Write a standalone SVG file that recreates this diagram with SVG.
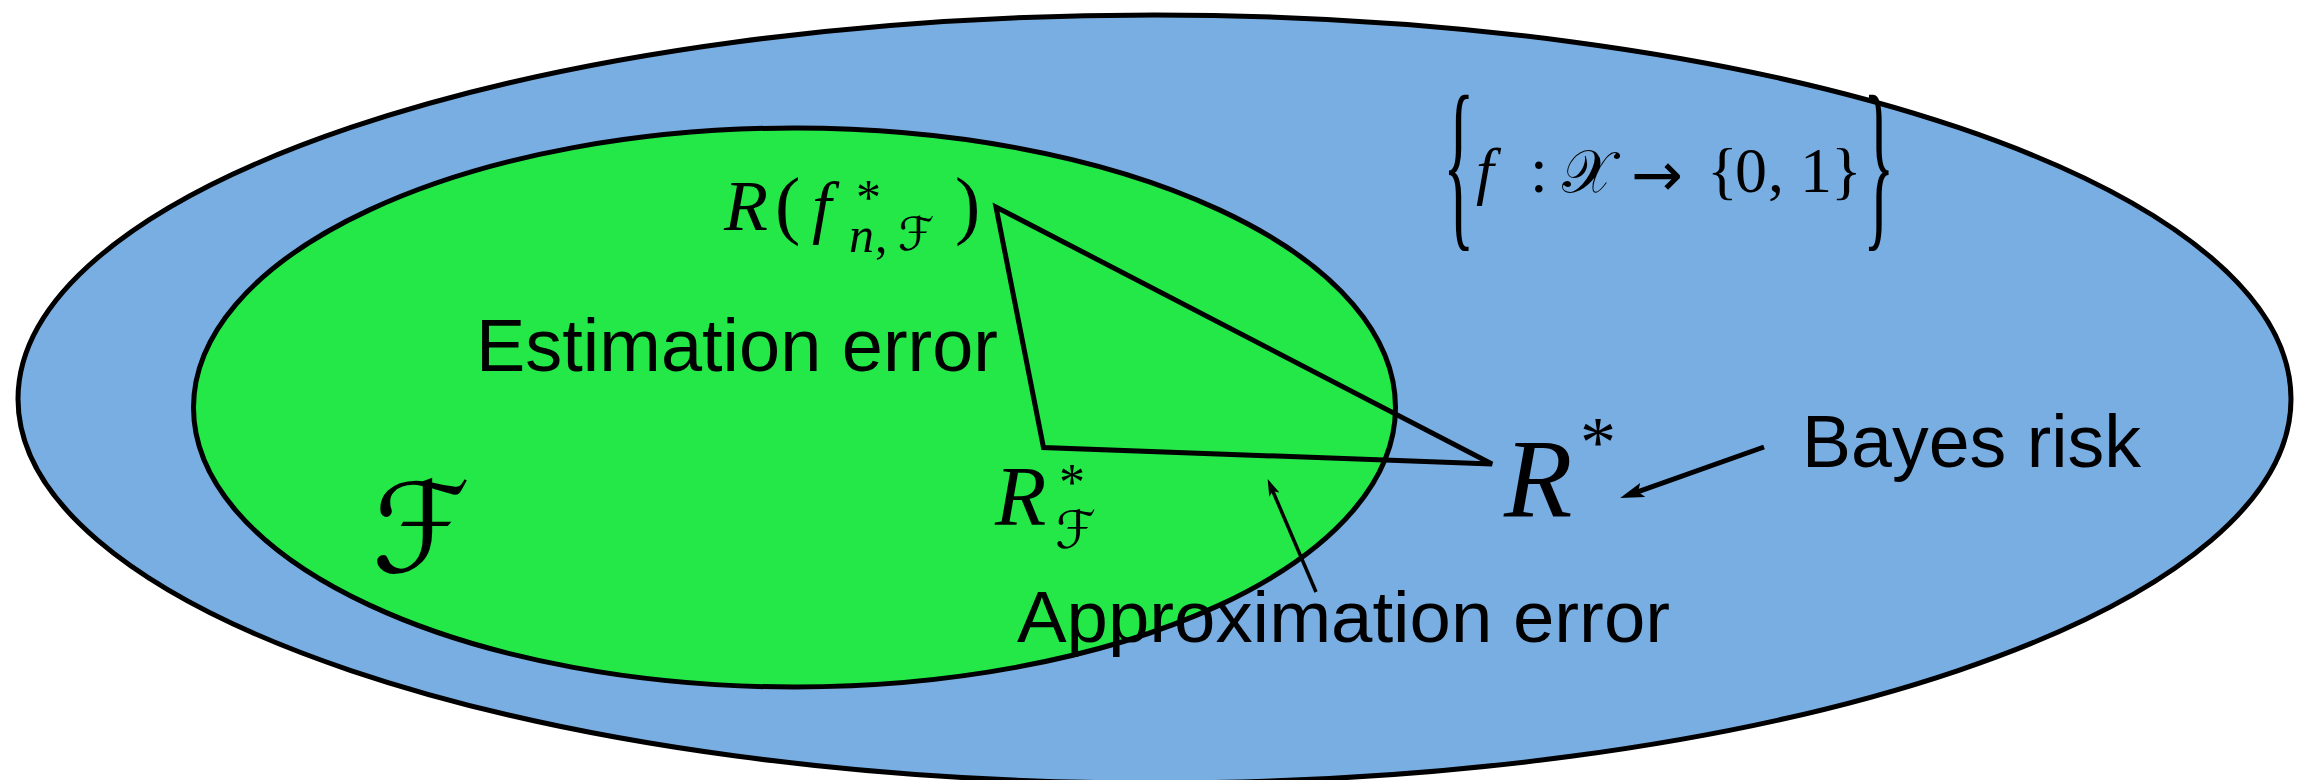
<svg xmlns="http://www.w3.org/2000/svg" width="2299" height="780" viewBox="0 0 2299 780">
<defs>
<style>
.sans{font-family:"Liberation Sans",Arial,sans-serif;fill:#000}
.mi{font-family:"Liberation Serif","Times New Roman",serif;font-style:italic;fill:#000}
.mr{font-family:"Liberation Serif","Times New Roman",serif;font-style:normal;fill:#000}
.cal{font-family:"DejaVu Serif","DejaVu Sans",serif;font-style:normal;fill:#000}
.arr{font-family:"DejaVu Sans",sans-serif;font-style:normal;fill:#000}
.edge{stroke:#000;fill:none}
</style>
<marker id="ahBig" viewBox="0 0 24 15" refX="13" refY="7.5" markerWidth="24" markerHeight="15" orient="auto" markerUnits="userSpaceOnUse"><path d="M0,0 L24,7.5 L0,15 L5,7.5 z" fill="#000"/></marker>
<marker id="ahSmall" viewBox="0 0 17 11" refX="9" refY="5.5" markerWidth="17" markerHeight="11" orient="auto" markerUnits="userSpaceOnUse"><path d="M0,0 L17,5.5 L0,11 L4,5.5 z" fill="#000"/></marker>
</defs>
<rect width="2299" height="780" fill="#fff"/>
<g id="all-functions">
<ellipse cx="1154.5" cy="399" rx="1136.5" ry="384" fill="#79AEE2" stroke="#000" stroke-width="5"/>
</g>
<g id="class-F">
<ellipse cx="794.5" cy="407.5" rx="601" ry="279.5" fill="#23E848" stroke="#000" stroke-width="5"/>
</g>
<g id="connectors">
<polygon class="edge" points="996,207 1043.5,447.5 1492,464" stroke-width="5" stroke-linejoin="miter"/>
<line class="edge" x1="1764" y1="447" x2="1630.5" y2="494.3" stroke-width="5" marker-end="url(#ahBig)"/>
<line class="edge" x1="1316" y1="592" x2="1270.8" y2="486.4" stroke-width="3.5" marker-end="url(#ahSmall)"/>
</g>
<g id="label-set">
<text class="mr" transform="translate(1443,226) scale(0.35,1)" font-size="188">{</text>
<text class="mi" font-size="64"><tspan x="1476" y="192">f</tspan><tspan class="mr" x="1530" y="192">:</tspan></text>
<text class="cal" x="1562" y="192" font-size="60">𝒳</text>
<text class="arr" x="1631" y="196" font-size="62">→</text>
<text class="mr" font-size="64" y="192" x="1707 1735 1768 1800 1831">{0,1}</text>
<text class="mr" transform="translate(1863,226) scale(0.35,1)" font-size="188">}</text>
</g>
<g id="label-RfnF">
<text class="mi" font-size="72"><tspan x="724" y="230">R</tspan><tspan class="mr" x="775" y="230" font-size="76">(</tspan><tspan x="812" y="230" font-size="70">f</tspan><tspan class="mr" x="856" y="214" font-size="50">*</tspan><tspan x="849" y="252" font-size="50">n</tspan><tspan class="mr" x="875" y="252" font-size="50">,</tspan><tspan class="cal" x="898" y="250" font-size="46">ℱ</tspan><tspan class="mr" x="955" y="230" font-size="76">)</tspan></text>
</g>
<g id="label-RF">
<text class="mi" font-size="84"><tspan x="995" y="525">R</tspan><tspan class="mr" x="1059" y="500" font-size="52">*</tspan><tspan class="cal" x="1055" y="548" font-size="52">ℱ</tspan></text>
</g>
<g id="label-Rstar">
<text class="mi" font-size="112"><tspan x="1504" y="516">R</tspan><tspan class="mr" x="1580" y="466" font-size="72">*</tspan></text>
</g>
<g id="label-bigF">
<text class="cal" x="372" y="572" font-size="125">ℱ</text>
</g>
<g id="label-estimation">
<text class="sans" x="476" y="371" font-size="74" textLength="522" lengthAdjust="spacingAndGlyphs">Estimation error</text>
</g>
<g id="label-approximation">
<text class="sans" x="1017" y="642" font-size="72" textLength="653" lengthAdjust="spacingAndGlyphs">Approximation error</text>
</g>
<g id="label-bayes">
<text class="sans" x="1802" y="467" font-size="75" textLength="339" lengthAdjust="spacingAndGlyphs">Bayes risk</text>
</g>
</svg>
